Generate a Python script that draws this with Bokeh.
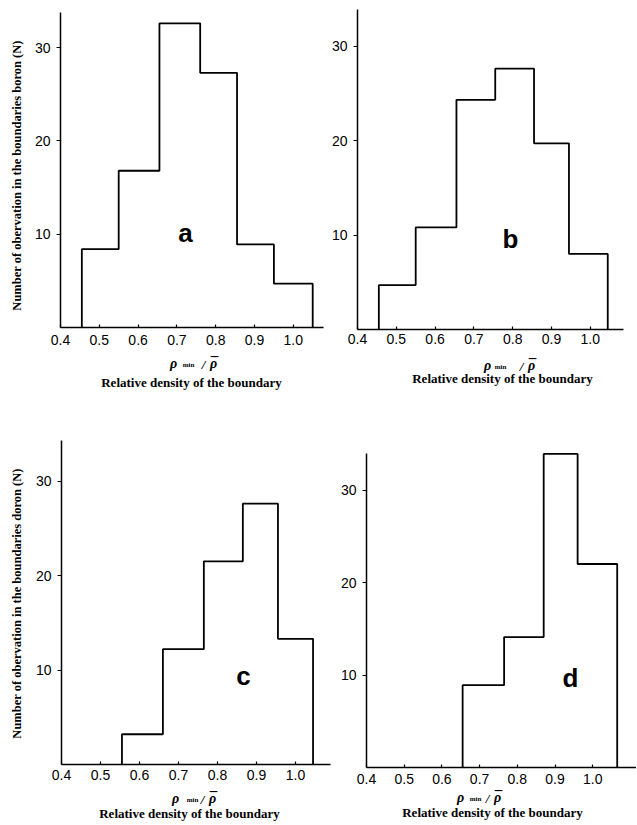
import math
from bokeh.plotting import figure
from bokeh.models import Label, FixedTicker, Range1d
from bokeh.layouts import row, column
from bokeh.embed import file_html
from bokeh.resources import INLINE

# ---- data ----
x_ticks = [0.4, 0.5, 0.6, 0.7, 0.8, 0.9, 1.0]
x_tick_labels = ["0.4", "0.5", "0.6", "0.7", "0.8", "0.9", "1.0"]
y_ticks = [10, 20, 30]
y_tick_labels = ["10", "20", "30"]

edges_a = [0.455, 0.55, 0.655, 0.76, 0.855, 0.95, 1.05]
counts_a = [8.4, 16.8, 32.6, 27.3, 8.9, 4.7]

edges_b = [0.455, 0.55, 0.655, 0.755, 0.855, 0.945, 1.045]
counts_b = [4.7, 10.8, 24.3, 27.6, 19.7, 8.0]

edges_c = [0.555, 0.66, 0.765, 0.865, 0.955, 1.045]
counts_c = [3.2, 12.2, 21.5, 27.6, 13.3]

edges_d = [0.655, 0.765, 0.87, 0.96, 1.065]
counts_d = [8.9, 14.1, 33.9, 22.0]

panel_letters = ["a", "b", "c", "d"]
ylabel_top = "Number of obervation in the boundaries boron (N)"
ylabel_bottom = "Number of obervation in the boundaries doron (N)"
xlabel_text = "Relative density of the boundary"

SERIF = "Liberation Serif"
SANS = "Liberation Sans"


def step_path(edges, counts):
    xs = [edges[0]]
    ys = [0]
    for i, c in enumerate(counts):
        xs += [edges[i], edges[i + 1]]
        ys += [c, c]
    xs.append(edges[-1])
    ys.append(0)
    return xs, ys


def panel(edges, counts, geom, x_end, y_top, letter, letter_pg, ylabel, ylabel_pg,
          x_standoff, rho_pg, rel_pg):
    # geom: figure origin/size on the page, axis origin on the page, px per unit
    ox, oy, w, h, ax, zy, sx, sy = geom
    xr = Range1d(0.4 - (ax - ox) / sx, 0.4 + (ox + w - ax) / sx)
    yr = Range1d(-(oy + h - zy) / sy, (zy - oy) / sy)

    def to_data(px, py):
        return 0.4 + (px - ax) / sx, (zy - py) / sy

    p = figure(width=w, height=h, output_backend="svg", toolbar_location=None,
               x_range=xr, y_range=yr,
               min_border_left=0, min_border_right=0, min_border_top=0, min_border_bottom=0)
    p.outline_line_color = None
    p.xgrid.visible = False
    p.ygrid.visible = False
    p.background_fill_color = "white"
    p.border_fill_color = "white"

    xs, ys = step_path(edges, counts)
    p.line(xs, ys, line_color="black", line_width=1.8)

    xa = p.xaxis[0]
    xa.fixed_location = 0
    xa.bounds = (0.4, x_end)
    xa.ticker = FixedTicker(ticks=x_ticks)
    xa.major_label_overrides = dict(zip(x_ticks, x_tick_labels))
    xa.major_tick_in = 3
    xa.major_tick_out = 0
    xa.minor_tick_line_color = None
    xa.axis_line_width = 1.5
    xa.major_tick_line_width = 1.2
    xa.major_label_text_font = SANS
    xa.major_label_text_font_size = "14px"
    xa.major_label_text_color = "black"
    xa.major_label_standoff = x_standoff

    ya = p.yaxis[0]
    ya.fixed_location = 0.4
    ya.bounds = (0, y_top)
    ya.ticker = FixedTicker(ticks=y_ticks)
    ya.major_label_overrides = dict(zip(y_ticks, y_tick_labels))
    ya.major_tick_in = 0
    ya.major_tick_out = 4
    ya.minor_tick_line_color = None
    ya.axis_line_width = 1.5
    ya.major_tick_line_width = 1.2
    ya.major_label_text_font = SANS
    ya.major_label_text_font_size = "14px"
    ya.major_label_text_color = "black"
    ya.major_label_standoff = 6

    if ylabel:
        lx, ly = to_data(*ylabel_pg)
        p.add_layout(Label(x=lx, y=ly, text=ylabel, angle=math.pi / 2,
                           text_font=SERIF, text_font_style="bold", text_font_size="12.5px",
                           text_align="center", text_baseline="middle", text_color="black"))

    lx, ly = to_data(*letter_pg)
    p.add_layout(Label(x=lx, y=ly, text=letter,
                       text_font=SANS, text_font_style="bold", text_font_size="26px",
                       text_align="center", text_baseline="middle", text_color="black"))

    # rho line: positions are the alphabetic baselines of each piece
    (px0, py0), (px1, py1), (px2, py2), (px3, py3) = rho_pg
    parts = [("ρ", "bold italic", "14px", px0, py0 + 3),
             ("min", "bold", "7px", px1, py1 + 4),
             ("/", "bold italic", "13px", px2, py2 + 4),
             ("ρ", "bold italic", "14px", px3, py3 + 3),
             ("\u00af", "bold", "15px", px3 + 1, py3 + 1)]
    for txt, style, size, px, py in parts:
        tx, ty = to_data(px, py)
        p.add_layout(Label(x=tx, y=ty, text=txt, text_font=SERIF, text_font_style=style,
                           text_font_size=size, text_align="center",
                           text_baseline="alphabetic", text_color="black"))

    tx, ty = to_data(*rel_pg)
    p.add_layout(Label(x=tx, y=ty, text=xlabel_text, text_font=SERIF,
                       text_font_style="bold", text_font_size="13px",
                       text_align="center", text_baseline="middle", text_color="black"))
    return p


pa = panel(edges_a, counts_a, (0, 0, 329, 418, 60, 327, 388, 9.33), 1.078, 33.76,
           panel_letters[0], (185, 232), ylabel_top, (16, 175), 7,
           [(173, 360), (188, 360), (203, 360), (213, 360)], (191, 382))
pb = panel(edges_b, counts_b, (329, 0, 307, 418, 357, 329, 388, 9.45), 1.086, 33.9,
           panel_letters[1], (510, 238), None, None, 4,
           [(487, 362), (500, 362), (521, 362), (531, 362)], (502, 378))
pc = panel(edges_c, counts_c, (0, 418, 336, 406, 61, 764, 390, 9.45), 1.09, 34.3,
           panel_letters[2], (243, 675), ylabel_bottom, (16, 603), 5,
           [(175, 795), (192, 795), (202, 795), (212, 795)], (189, 813))
pd = panel(edges_d, counts_d, (336, 418, 300, 406, 366, 767, 377, 9.25), 1.12, 33.9,
           panel_letters[3], (570, 677), None, None, 6,
           [(460, 794), (475, 794), (487, 794), (497, 794)], (492, 812))

layout = column(row(pa, pb), row(pc, pd))
open("out.html", "w").write(file_html(layout, INLINE))
